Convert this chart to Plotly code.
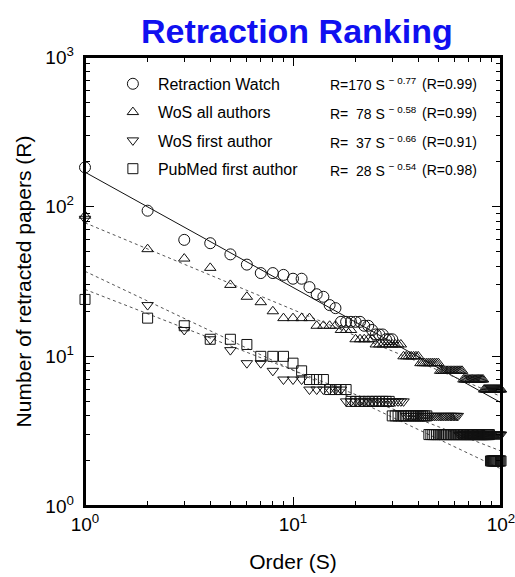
import plotly.graph_objects as go

# ---------------- data ----------------
rw_R = [183, 94, 60, 57, 48, 41, 36, 36, 35, 33, 33, 29, 26, 25, 22, 21, 17, 17, 17, 17,
        17, 16, 16, 15, 14, 14, 14, 13, 13, 13]

wos_all_R = [87, 52, 45, 39, 30, 25, 23, 20, 18, 18, 18, 18, 16, 16, 16, 16, 15, 15, 15, 13,
             13, 13, 13, 13, 12, 12, 12, 12, 12, 12, 12, 12, 12, 10, 10, 10, 10, 10, 10, 10,
             9, 9, 9, 9, 9, 9, 9, 9, 9, 9, 8, 8, 8, 8, 8, 8, 8, 8, 8, 8,
             8, 8, 8, 8, 8, 7, 7, 7, 7, 7, 7, 7, 7, 7, 7, 7, 7, 7, 7, 7,
             7, 7, 6, 6, 6, 6, 6, 6, 6, 6, 6, 6, 6, 6, 6, 6, 6, 6, 6, 6]

wos_first_R = [83, 22, 15, 13, 11, 9, 9, 8, 7, 7, 7, 6, 6, 6, 6, 6, 6, 5, 5, 5,
               5, 5, 5, 5, 5, 5, 5, 5, 5, 5, 5, 5, 5, 5, 4, 4, 4, 4, 4, 4,
               4, 4, 4, 4, 4, 4, 4, 4, 4, 4, 4, 4, 4, 4, 4, 4, 4, 4, 4, 4,
               4, 4, 3, 3, 3, 3, 3, 3, 3, 3, 3, 3, 3, 3, 3, 3, 3, 3, 3, 3,
               3, 3, 3, 3, 3, 3, 3, 3, 3, 3, 3, 3, 3, 3, 3, 3, 3, 3, 3, 3]

pubmed_R = [24, 18, 16, 13, 13, 12, 10, 10, 10, 9, 8, 7, 7, 7, 6, 6, 6, 6, 5, 5,
            5, 5, 5, 5, 5, 5, 5, 5, 5, 4, 4, 4, 4, 4, 4, 4, 4, 4, 4, 4,
            4, 4, 4, 4, 3, 3, 3, 3, 3, 3, 3, 3, 3, 3, 3, 3, 3, 3, 3, 3,
            3, 3, 3, 3, 3, 3, 3, 3, 3, 3, 3, 3, 3, 3, 3, 3, 3, 3, 3, 3,
            3, 3, 3, 3, 3, 3, 3, 3, 2, 2, 2, 2, 2, 2, 2, 2, 2, 2, 2, 2]

series_names = ["Retraction Watch", "WoS all authors", "WoS first author", "PubMed first author"]
fit_a = [170, 78, 37, 28]
fit_b = [-0.77, -0.58, -0.66, -0.54]
fit_r = [0.99, 0.99, 0.91, 0.98]
fit_range = [1, 100]

x_tickvals = [1, 10, 100]
x_ticktext = ["10<sup>0</sup>", "10<sup>1</sup>", "10<sup>2</sup>"]
y_tickvals = [1, 10, 100, 1000]
y_ticktext = ["10<sup>0</sup>&nbsp;", "10<sup>1</sup>&nbsp;", "10<sup>2</sup>&nbsp;",
              "10<sup>3</sup>&nbsp;"]

# ---------------- figure ----------------
FONT = "Liberation Sans, Arial, Helvetica, sans-serif"
all_R = [rw_R, wos_all_R, wos_first_R, pubmed_R]
symbols = ["circle-open", "triangle-up-open", "triangle-down-open", "square-open"]
sizes = [11, 10, 10, 10]
fit_dash = ["solid", "dot", "dot", "dot"]
fit_color = ["#111111", "#555555", "#555555", "#555555"]

W, H = 515, 577
ML, MR, MT, MB = 85, 14, 57, 71
EPS = 1e-7  # keeps the end-of-range decade ticks inside the range despite float rounding

fig = go.Figure()

for i, R in enumerate(all_R):
    fx = fit_range
    fy = [fit_a[i] * s ** fit_b[i] for s in fx]
    fig.add_trace(go.Scatter(x=fx, y=fy, mode="lines", showlegend=False,
                             line=dict(color=fit_color[i], width=1, dash=fit_dash[i]),
                             hoverinfo="skip"))

for i, R in enumerate(all_R):
    S = list(range(1, len(R) + 1))
    fig.add_trace(go.Scatter(x=S, y=R, mode="markers", name=series_names[i],
                             legendgroup=f"g{i}", cliponaxis=False,
                             marker=dict(symbol=symbols[i], size=sizes[i], color="#111111",
                                         line=dict(width=1, color="#111111"))))

tick_style = dict(showgrid=False, zeroline=False, showline=True,
                  linecolor="black", linewidth=2, mirror="allticks",
                  ticks="inside", ticklen=9, tickwidth=1, tickcolor="black",
                  ticklabeloverflow="allow",
                  tickfont=dict(family=FONT, size=19, color="black"),
                  minor=dict(ticks="inside", ticklen=5, tickwidth=1, tickcolor="black",
                             dtick="D1", showgrid=False))

fig.update_layout(
    xaxis=dict(**tick_style, type="log", range=[-EPS, 2 + EPS],
               tickvals=x_tickvals, ticktext=x_ticktext,
               title=dict(text="Order (S)", font=dict(family=FONT, size=21, color="black"),
                          standoff=21)),
    yaxis=dict(**tick_style, type="log", range=[-EPS, 3 + EPS], side="left",
               tickvals=y_tickvals, ticktext=y_ticktext,
               title=dict(text="Number of retracted papers (R)",
                          font=dict(family=FONT, size=21, color="black"), standoff=8)),
)

# plot frame drawn explicitly as well
fig.add_shape(type="rect", xref="paper", yref="paper", x0=0, x1=1, y0=0, y1=1,
              line=dict(color="black", width=2), fillcolor="rgba(0,0,0,0)", layer="above")

fig.update_layout(
    width=W, height=H,
    margin=dict(l=ML, r=MR, t=MT, b=MB, autoexpand=False),
    paper_bgcolor="white", plot_bgcolor="white",
    showlegend=True,
    legend=dict(x=0.055, y=0.978, xanchor="left", yanchor="top",
                font=dict(family=FONT, size=16, color="black"),
                bgcolor="rgba(0,0,0,0)", borderwidth=0, tracegroupgap=4.5,
                itemsizing="trace", itemwidth=40),
    font=dict(family=FONT, color="black"),
)

# title
fig.add_annotation(text="<b>Retraction Ranking</b>", xref="paper", yref="paper",
                   x=0.509, y=1.0, xanchor="center", yanchor="bottom", yshift=5,
                   showarrow=False, font=dict(family=FONT, size=34, color="#1010F0"))

# fit formulas (row positions in window pixels)
row_px = [84, 113, 141.5, 169.5]
plot_h = H - MT - MB
plot_w = W - ML - MR
for i in range(4):
    ypaper = 1 - (row_px[i] - MT) / plot_h
    pad = "" if fit_a[i] >= 100 else "&nbsp;&nbsp;"
    txt = f"R={pad}{fit_a[i]} S <sup>\u2212 {abs(fit_b[i]):.2f}</sup>"
    fig.add_annotation(text=txt, xref="paper", yref="paper",
                       x=(328 - ML) / plot_w, y=ypaper, xanchor="left", yanchor="middle",
                       showarrow=False, font=dict(family=FONT, size=14, color="black"))
    fig.add_annotation(text=f"(R={fit_r[i]:.2f})", xref="paper", yref="paper",
                       x=(420 - ML) / plot_w, y=ypaper, xanchor="left", yanchor="middle",
                       showarrow=False, font=dict(family=FONT, size=14, color="black"))

# the page's default body margin would push the figure off the window edge
page_css = ("document.documentElement.style.margin='0';"
            "document.body.style.margin='0';"
            "document.body.style.overflow='hidden';")
fig.write_html("out.html", post_script=page_css,
               config=dict(displayModeBar=False))
